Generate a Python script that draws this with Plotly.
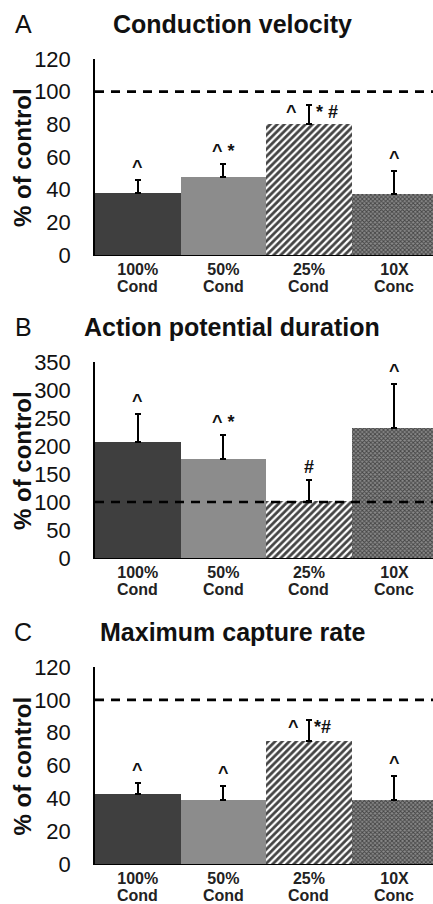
import plotly.graph_objects as go

cat_top = ["100%", "50%", "25%", "10X"]
cat_bottom = ["Cond", "Cond", "Cond", "Conc"]

cv_values = [38.2, 47.7, 80.3, 37.6]
cv_errors = [7.5, 8.2, 11.7, 13.8]

apd_values = [207, 177, 102, 233]
apd_errors = [51, 42, 38, 77]

mcr_values = [42.8, 39.2, 75.0, 39.2]
mcr_errors = [6.7, 8.3, 13.0, 14.3]

titles = ["Conduction velocity", "Action potential duration", "Maximum capture rate"]
letters = ["A", "B", "C"]
yranges = [[0, 120], [0, 350], [0, 120]]
ydticks = [20, 50, 20]

marks = [
    [(0, "^", 0), (1, "^ *", 0), (2, "^", -17), (2, "* #", 18), (3, "^", 0)],
    [(0, "^", 0), (1, "^ *", 0), (2, "#", 0), (3, "^", 0)],
    [(0, "^", 0), (1, "^", 0), (2, "^", -15), (2, "*#", 14), (3, "^", 0)],
]

FONT = "Arial, Liberation Sans, sans-serif"
W, H = 433, 904
panels_px = [(59, 255), (362, 558), (667, 864)]
x0_px = 95

fills = ["#3f3f3f", "#8c8c8c", "white", "#8a8a8a"]
pat_shapes = ["", "", "/", "x"]
pat_fg = ["#3f3f3f", "#8c8c8c", "black", "#4a4a4a"]
pat_size = [8, 8, 5, 3]
pat_sol = [0.3, 0.3, 0.55, 0.5]

fig = go.Figure()
data = [(cv_values, cv_errors), (apd_values, apd_errors), (mcr_values, mcr_errors)]
annotations = []
shapes = []
layout = {}
for i, (vals, errs) in enumerate(data):
    sfx = "" if i == 0 else str(i + 1)
    xa, ya = "x" + sfx, "y" + sfx
    fig.add_trace(go.Bar(
        x=list(range(4)), y=vals, xaxis=xa, yaxis=ya,
        marker=dict(color=fills, line=dict(width=0),
                    pattern=dict(shape=pat_shapes, fgcolor=pat_fg, bgcolor=fills, fgopacity=1,
                                 size=pat_size, solidity=pat_sol)),
        error_y=dict(type="data", array=errs, arrayminus=[0] * 4, symmetric=False,
                     color="black", thickness=2, width=3),
        width=1.0, showlegend=False, hoverinfo="skip",
    ))
    top, bot = panels_px[i]
    dom_y = [1 - bot / H, 1 - top / H]
    layout["xaxis" + sfx] = dict(
        domain=[x0_px / W, 1], anchor=ya, range=[-0.5, 3.45], automargin=False,
        tickmode="array", tickvals=list(range(4)), ticktext=["<b>%s</b>" % c for c in cat_top],
        tickfont=dict(family=FONT, size=16, color="#222"), showline=True, linecolor="black",
        linewidth=1, ticks="", ticklabelstandoff=0, showgrid=False, zeroline=False, fixedrange=True,
    )
    layout["yaxis" + sfx] = dict(
        domain=dom_y, anchor=xa, range=yranges[i], dtick=ydticks[i], automargin=False,
        tickfont=dict(family=FONT, size=22, color="#111"), showline=True, linecolor="black",
        linewidth=1.5, ticks="", ticklen=0, ticklabelstandoff=18, showgrid=False, zeroline=False,
        fixedrange=True,
    )
    for ci, lab in enumerate(cat_bottom):
        annotations.append(dict(text="<b>%s</b>" % lab, x=ci, y=1 - (bot + 31) / H, xref=xa, yref="paper",
                                showarrow=False, xanchor="center", yanchor="middle",
                                font=dict(family=FONT, size=16, color="#222")))
    shapes.append(dict(type="line", xref=xa + " domain", yref=ya, x0=0, x1=1, y0=100, y1=100,
                       line=dict(color="black", width=2.6, dash="9px,7px"), layer="above"))
    annotations.append(dict(text="<b>%s</b>" % titles[i], x=232 / W, y=1 - (top - 35) / H,
                            xref="paper", yref="paper", showarrow=False,
                            font=dict(family=FONT, size=25, color="#111"), xanchor="center", yanchor="middle"))
    annotations.append(dict(text=letters[i], x=23 / W, y=1 - (top - 35) / H,
                            xref="paper", yref="paper", showarrow=False,
                            font=dict(family=FONT, size=25, color="#111"), xanchor="center", yanchor="middle"))
    annotations.append(dict(text="<b>% of control</b>", x=22 / W, y=1 - ((top + bot) / 2 + 1) / H,
                            xref="paper", yref="paper", showarrow=False, textangle=-90,
                            font=dict(family=FONT, size=24, color="#111"), xanchor="center", yanchor="middle"))
    for (bi, txt, dx) in marks[i]:
        if dx == 0:
            annotations.append(dict(text="<b>%s</b>" % txt, x=bi, y=vals[bi] + errs[bi], xref=xa, yref=ya,
                                    showarrow=False, yanchor="bottom", yshift=1,
                                    font=dict(family=FONT, size=18, color="#111")))
        else:
            annotations.append(dict(text="<b>%s</b>" % txt, x=bi, y=vals[bi] + errs[bi], xref=xa, yref=ya,
                                    showarrow=False, yanchor="middle", xshift=dx, yshift=-7,
                                    font=dict(family=FONT, size=18, color="#111")))

fig.update_layout(
    width=W, height=H, margin=dict(l=0, r=0, t=0, b=0, pad=0, autoexpand=False),
    paper_bgcolor="white", plot_bgcolor="white", bargap=0,
    annotations=annotations, shapes=shapes, **layout,
)
fig.write_html("out.html", config={"displayModeBar": False},
               post_script="document.body.style.margin='0';")
